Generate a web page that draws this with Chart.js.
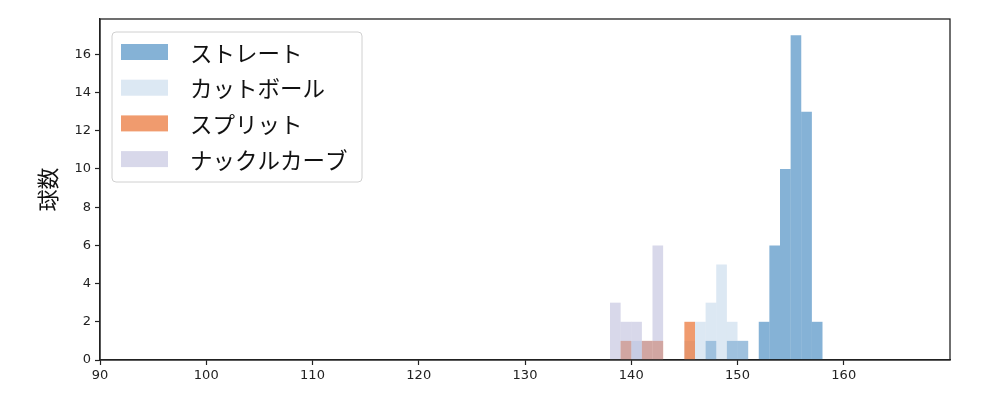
<!DOCTYPE html>
<html lang="ja">
<head>
    <meta charset="UTF-8">
    <title>球数ヒストグラム</title>
    <style>
        body { margin: 0; background: white; }
        .chart-container { width: 1000px; height: 400px; }
    </style>
</head>
<body>
    <div class="chart-container">
        <canvas id="pitchChart" width="1000" height="400"></canvas>
    </div>
    <script src="https://cdn.jsdelivr.net/npm/chart.js"></script>
    <script>
        // Bin start (km/h), each bin is 1 km/h wide
        const binStarts = [138, 139, 140, 141, 142, 143, 144, 145, 146, 147, 148, 149, 150, 151, 152, 153, 154, 155, 156, 157];
        const straight  = [0, 0, 0, 0, 0, 0, 0, 0, 0, 1, 0, 1, 1, 0, 2, 6, 10, 17, 13, 2];
        const cutball   = [0, 0, 1, 0, 0, 0, 0, 1, 2, 3, 5, 2, 1, 0, 0, 0, 0, 0, 0, 0];
        const split     = [0, 1, 0, 1, 1, 0, 0, 2, 0, 0, 0, 0, 0, 0, 0, 0, 0, 0, 0, 0];
        const knuckle   = [3, 2, 2, 1, 6, 0, 0, 0, 0, 0, 0, 0, 0, 0, 0, 0, 0, 0, 0, 0];

        const seriesNames = ["ストレート", "カットボール", "スプリット", "ナックルカーブ"];
        const seriesColors = [
            "rgba(11, 101, 173, 0.5)",
            "rgba(185, 209, 231, 0.5)",
            "rgba(235, 122, 62, 0.75)",
            "rgba(177, 177, 213, 0.5)"
        ];
        const xTicks = [90, 100, 110, 120, 130, 140, 150, 160];
        const yTicks = [0, 2, 4, 6, 8, 10, 12, 14, 16];

        const jpFont = "'Noto Sans CJK JP', 'DejaVu Sans', sans-serif";

        function toPoints(values) {
            return values.map((v, i) => ({ x: binStarts[i] + 0.5, y: v }));
        }

        // Frame around the plot and a legend box inside it, top-left
        const framePlugin = {
            id: "frameLegend",
            afterDraw(chart) {
                const ctx = chart.ctx;
                const a = chart.chartArea;
                ctx.save();
                ctx.strokeStyle = "#222";
                ctx.lineWidth = 1.3;
                ctx.strokeRect(a.left, a.top, a.right - a.left, a.bottom - a.top);

                const bx = a.left + 12, by = a.top + 13, bw = 250, bh = 150;
                ctx.beginPath();
                ctx.roundRect(bx, by, bw, bh, 4);
                ctx.fillStyle = "rgba(255,255,255,0.8)";
                ctx.fill();
                ctx.strokeStyle = "#d0d0d0";
                ctx.lineWidth = 1;
                ctx.stroke();

                ctx.font = "22.5px " + jpFont;
                ctx.textBaseline = "middle";
                seriesNames.forEach((name, i) => {
                    const cy = by + 20 + i * 35.7;
                    ctx.fillStyle = "white";
                    ctx.fillRect(bx + 9, cy - 8, 47, 16);
                    ctx.fillStyle = seriesColors[i];
                    ctx.fillRect(bx + 9, cy - 8, 47, 16);
                    ctx.fillStyle = "#111";
                    ctx.fillText(name, bx + 78, cy + 1);
                });
                ctx.restore();
            }
        };

        function drawChart() {
            const allSeries = [straight, cutball, split, knuckle];
            const datasets = allSeries.map((vals, i) => ({
                label: seriesNames[i],
                data: toPoints(vals),
                backgroundColor: seriesColors[i],
                borderWidth: 0,
                inflateAmount: 0,
                barPercentage: 1.0,
                categoryPercentage: 1.0,
                grouped: false,
                order: allSeries.length - i
            }));

            const ctx = document.getElementById("pitchChart").getContext("2d");
            new Chart(ctx, {
                type: "bar",
                data: { datasets: datasets },
                options: {
                    responsive: false,
                    animation: false,
                    layout: { padding: { left: 0, right: 50, top: 19, bottom: 0 } },
                    plugins: {
                        legend: { display: false },
                        tooltip: { enabled: false }
                    },
                    scales: {
                        x: {
                            type: "linear",
                            min: 90,
                            max: 170,
                            offset: false,
                            afterBuildTicks: s => { s.ticks = xTicks.map(v => ({ value: v })); },
                            afterFit: s => { s.height = 40; },
                            grid: { offset: false, drawOnChartArea: false, drawTicks: true, tickLength: 5, tickColor: "#222", tickWidth: 1.2 },
                            border: { display: true, color: "#222", width: 1.3 },
                            ticks: { color: "#222", padding: 3, maxRotation: 0, font: { family: "'DejaVu Sans'", size: 13 } }
                        },
                        y: {
                            min: 0,
                            max: 17.85,
                            afterBuildTicks: s => { s.ticks = yTicks.map(v => ({ value: v })); },
                            afterFit: s => { s.width = 100; },
                            grid: { drawOnChartArea: false, drawTicks: true, tickLength: 5, tickColor: "#222", tickWidth: 1.2 },
                            border: { display: true, color: "#222", width: 1.3 },
                            ticks: { color: "#222", padding: 4, font: { family: "'DejaVu Sans'", size: 13 } },
                            title: {
                                display: true,
                                text: "球数",
                                color: "#111",
                                padding: { top: 34 },
                                font: { family: jpFont, size: 22 }
                            }
                        }
                    }
                },
                plugins: [framePlugin]
            });
        }

        document.addEventListener("DOMContentLoaded", drawChart);
    </script>
</body>
</html>
